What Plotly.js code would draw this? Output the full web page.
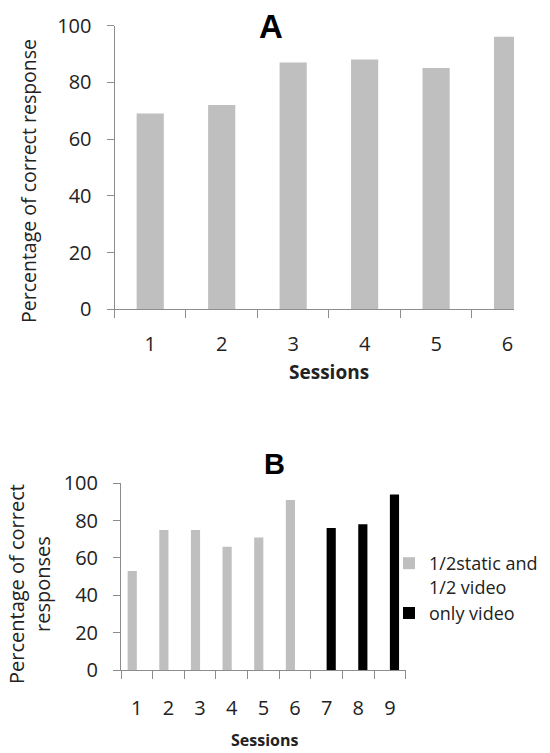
<!DOCTYPE html>
<html><head><meta charset="utf-8">
<script src="https://cdn.plot.ly/plotly-3.0.1.min.js"></script>
<style>html,body{margin:0;padding:0;background:#fff}#chart{width:550px;height:753px}</style>
</head><body><div id="chart"></div>
<script>
// ---- data ----
const sessionsA = ['1', '2', '3', '4', '5', '6'];
const valuesA = [69, 72, 87, 88, 85, 96];

const sessionsB = ['1', '2', '3', '4', '5', '6', '7', '8', '9'];
const sessionsMixed = ['1', '2', '3', '4', '5', '6'];
const valuesMixed = [53, 75, 75, 66, 71, 91];
const sessionsVideo = ['7', '8', '9'];
const valuesVideo = [76, 78, 94];

const yTicks = [0, 20, 40, 60, 80, 100];
const nameMixed = '1/2static and<br>1/2 video';
const nameVideo = 'only video';

// ---- styles ----
const GRAY = '#bfbfbf';
const AXIS = '#8c8c8c';
const TXT = '#222222';
const FONT = 'Open Sans, Noto Sans, sans-serif';

const traces = [
  {type: 'bar', x: sessionsA, y: valuesA, xaxis: 'x', yaxis: 'y',
   marker: {color: GRAY}, width: 0.38, showlegend: false, hoverinfo: 'x+y'},
  {type: 'bar', x: sessionsMixed, y: valuesMixed, xaxis: 'x2', yaxis: 'y2',
   name: nameMixed, marker: {color: GRAY}, width: 0.29, offset: -0.29},
  {type: 'bar', x: sessionsVideo, y: valuesVideo, xaxis: 'x2', yaxis: 'y2',
   name: nameVideo, marker: {color: '#000000'}, width: 0.29, offset: 0}
];

function xAxis(cats, range, domain, anchor, standoff) {
  return {type: 'category', categoryorder: 'array', categoryarray: cats,
    range: range, domain: domain, anchor: anchor, fixedrange: true,
    showline: true, linecolor: AXIS, linewidth: 1, showgrid: false, zeroline: false,
    ticks: 'outside', tickson: 'boundaries', ticklen: 8, tickcolor: AXIS, tickwidth: 1,
    ticklabelstandoff: standoff,
    tickfont: {family: FONT, size: 20, color: TXT}};
}
function yAxis(domain, anchor) {
  return {range: [0, 100], domain: domain, anchor: anchor, fixedrange: true,
    tickmode: 'array', tickvals: yTicks, ticktext: yTicks.map(String),
    showline: true, linecolor: AXIS, linewidth: 1, showgrid: false, zeroline: false,
    ticks: 'outside', ticklen: 7, tickcolor: AXIS, tickwidth: 1,
    ticklabelstandoff: 11,
    tickfont: {family: FONT, size: 20, color: TXT}};
}

const layout = {
  width: 550, height: 753,
  margin: {l: 0, r: 0, t: 0, b: 0},
  paper_bgcolor: '#ffffff', plot_bgcolor: '#ffffff',
  barmode: 'overlay',
  font: {family: FONT, color: TXT},
  xaxis: xAxis(sessionsA, [-0.5, 5.09], [114.5 / 550, 514 / 550], 'y', 17),
  yaxis: yAxis([1 - 309.3 / 753, 1 - 25.5 / 753], 'x'),
  xaxis2: xAxis(sessionsB, [-0.5, 8.5], [121 / 550, 405.7 / 550], 'y2', 20),
  yaxis2: yAxis([1 - 670 / 753, 1 - 483.3 / 753], 'x2'),
  showlegend: true,
  legend: {x: 389 / 550, xanchor: 'left', y: 1 - 545 / 753, yanchor: 'top',
    valign: 'top',
    bgcolor: 'rgba(0,0,0,0)', borderwidth: 0, tracegroupgap: 0, itemwidth: 30,
    font: {family: FONT, size: 18, color: TXT}},
  annotations: [
    {text: '<b>A</b>', xref: 'paper', yref: 'paper', x: 271 / 550, y: 1 - 27 / 753,
     xanchor: 'center', yanchor: 'middle', showarrow: false,
     font: {family: 'Liberation Sans, Arial, sans-serif', size: 33, color: '#000'}},
    {text: '<b>B</b>', xref: 'paper', yref: 'paper', x: 274 / 550, y: 1 - 464 / 753,
     xanchor: 'center', yanchor: 'middle', showarrow: false,
     font: {family: 'Liberation Sans, Arial, sans-serif', size: 29, color: '#000'}},
    {text: 'Percentage of correct response', xref: 'paper', yref: 'paper',
     x: 28 / 550, y: 1 - 181 / 753, textangle: -90, xanchor: 'center', yanchor: 'middle',
     showarrow: false, font: {family: FONT, size: 19.5, color: TXT}},
    {text: 'Percentage of correct<br>responses', xref: 'paper', yref: 'paper',
     x: 29 / 550, y: 1 - 584 / 753, textangle: -90, xanchor: 'center', yanchor: 'middle',
     showarrow: false, font: {family: FONT, size: 20, color: TXT}},
    {text: '<b>Sessions</b>', xref: 'paper', yref: 'paper', x: 329 / 550, y: 1 - 372 / 753,
     xanchor: 'center', yanchor: 'middle', showarrow: false,
     font: {family: FONT, size: 19, color: TXT}},
    {text: '<b>Sessions</b>', xref: 'paper', yref: 'paper', x: 264 / 550, y: 0,
     xanchor: 'center', yanchor: 'bottom', showarrow: false,
     font: {family: FONT, size: 16, color: TXT}}
  ]
};

Plotly.newPlot('chart', traces, layout, {staticPlot: true, displayModeBar: false});
</script>
</body></html>
